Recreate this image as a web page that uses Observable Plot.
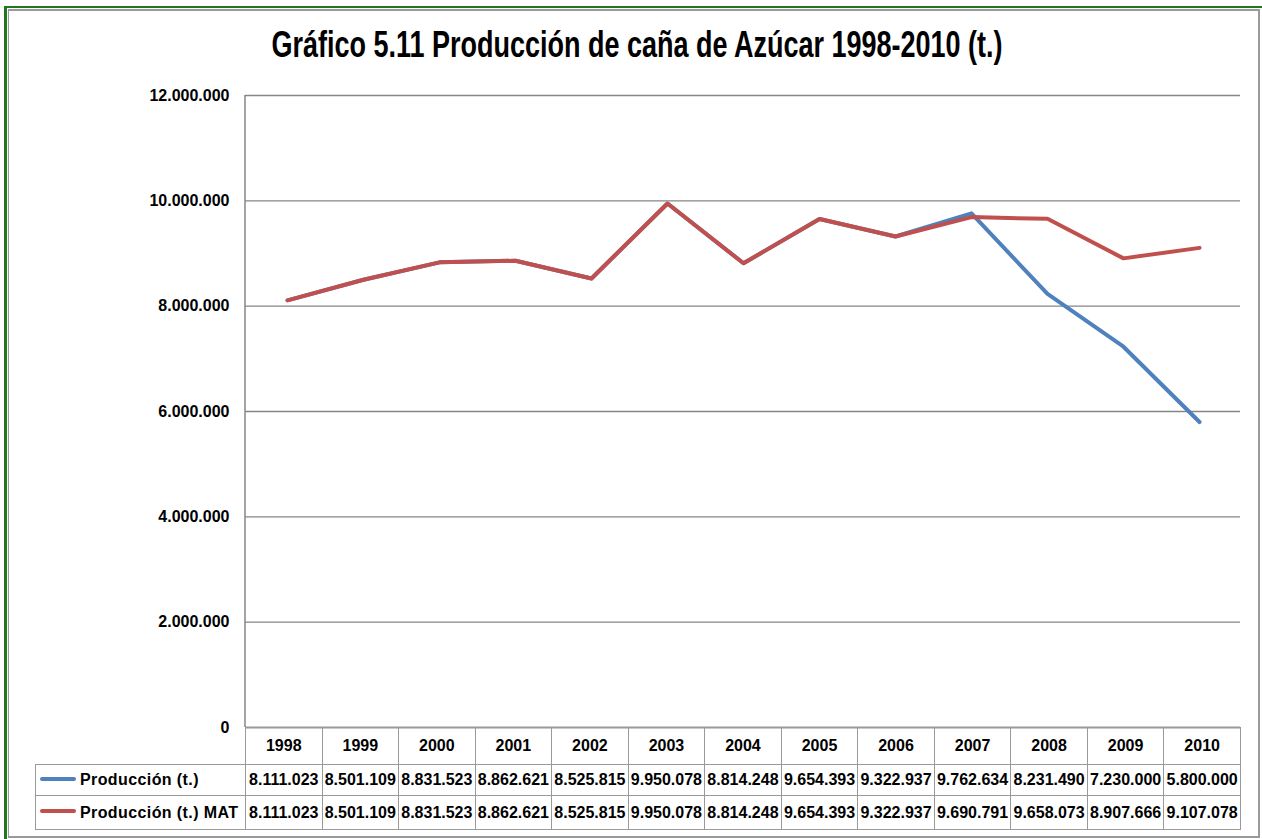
<!DOCTYPE html>
<html>
<head>
<meta charset="utf-8">
<script src="https://cdn.jsdelivr.net/npm/d3@7"></script>
<script src="https://cdn.jsdelivr.net/npm/@observablehq/plot@0.6"></script>
<style>
  html, body { margin: 0; padding: 0; background: #fff; }
  #wrap { position: relative; width: 1262px; height: 839px; overflow: hidden; font-family: "Liberation Sans", Arial, sans-serif; }
  #green { position: absolute; left: 4px; top: 6px; width: 1258px; height: 840px; border-top: 2px solid #1f7a1f; border-left: 3px solid #1f7a1f; box-sizing: border-box; }
  #gray { position: absolute; left: 8px; top: 9px; width: 1252px; height: 829px; border: 1px solid #9a9a9a; border-width: 2px 2px 2px 1px; box-sizing: border-box; }
  #title { position: absolute; left: 0; width: 1274px; top: 24px; text-align: center; font-family: "Liberation Sans", Arial, sans-serif; font-weight: bold; font-size: 37px; color: #000; white-space: nowrap; }
  #title span { display: inline-block; transform-origin: center; }
  #chart { position: absolute; left: 0; top: 0; }
  #table { position: absolute; left: 35px; top: 727px; border-collapse: collapse; table-layout: fixed; font-weight: bold; font-size: 16px; color: #000; }
  #table td { border: 1px solid #9a9a9a; padding: 0; text-align: center; white-space: nowrap; overflow: visible; }
  #table td.blank { border: none; }
  #table td.lab { text-align: left; padding-left: 4px; letter-spacing: 0.4px; }
  .sw { display: inline-block; width: 36px; height: 4px; border-radius: 2px; vertical-align: middle; margin-right: 4px; position: relative; top: -2px; }
</style>
</head>
<body>
<div id="wrap">
  <div id="green"></div>
  <div id="gray"></div>
  <div id="title"><span id="titletext"></span></div>
  <div id="chart"></div>
  <table id="table"></table>
</div>
<script>
const titleText = "Gráfico 5.11 Producción de caña de Azúcar 1998-2010 (t.)";
const years = ["1998","1999","2000","2001","2002","2003","2004","2005","2006","2007","2008","2009","2010"];
const produccion = [8111023, 8501109, 8831523, 8862621, 8525815, 9950078, 8814248, 9654393, 9322937, 9762634, 8231490, 7230000, 5800000];
const produccionMAT = [8111023, 8501109, 8831523, 8862621, 8525815, 9950078, 8814248, 9654393, 9322937, 9690791, 9658073, 8907666, 9107078];
const seriesNames = ["Producción (t.)", "Producción (t.) MAT"];
const seriesColors = ["#4F81BD", "#C0504D"];
const yTicks = [0, 2000000, 4000000, 6000000, 8000000, 10000000, 12000000];

const fmt = d3.formatLocale({decimal: ",", thousands: ".", grouping: [3], currency: ["", ""]}).format(",");

document.getElementById("titletext").textContent = titleText;

const seriesValues = [produccion, produccionMAT];
const data = seriesValues.flatMap((vals, s) => years.map((y, i) => ({year: y, value: vals[i], series: seriesNames[s]})));

const leftLine = (index, scales, values, dims) => {
  const g = d3.create("svg:line")
    .attr("x1", dims.marginLeft).attr("x2", dims.marginLeft)
    .attr("y1", dims.marginTop).attr("y2", dims.height - dims.marginBottom)
    .attr("stroke", "#868686").attr("stroke-width", 1.5);
  return g.node();
};

const chart = Plot.plot({
  width: 1262,
  height: 839,
  marginTop: 95,
  marginBottom: 112,
  marginLeft: 245,
  marginRight: 22,
  style: {fontFamily: "'Liberation Sans', Arial, sans-serif", fontSize: "16px", fontWeight: "bold", color: "#000", background: "transparent", overflow: "visible"},
  x: {type: "point", domain: years, padding: 0.5, axis: null},
  y: {domain: [0, 12000000], ticks: yTicks, tickFormat: fmt, tickSize: 0, tickPadding: 16, label: null},
  color: {domain: seriesNames, range: seriesColors},
  marks: [
    Plot.gridY(yTicks, {stroke: "#868686", strokeOpacity: 1, strokeWidth: 1.3}),
    Plot.ruleY([0], {stroke: "#868686", strokeWidth: 1.5}),
    leftLine,
    Plot.line(data, {x: "year", y: "value", z: "series", stroke: "series", strokeWidth: 4, strokeLinejoin: "round", strokeLinecap: "round"})
  ]
});
document.getElementById("chart").appendChild(chart);

// data table
const colW = (1240 - 245) / years.length;
const table = document.getElementById("table");
const colgroup = document.createElement("colgroup");
const c0 = document.createElement("col"); c0.style.width = "210px"; colgroup.appendChild(c0);
years.forEach(() => { const c = document.createElement("col"); c.style.width = colW + "px"; colgroup.appendChild(c); });
table.appendChild(colgroup);
table.style.width = (210 + colW * years.length) + "px";

const hr = document.createElement("tr"); hr.style.height = "37px";
const blank = document.createElement("td"); blank.className = "blank"; hr.appendChild(blank);
years.forEach(y => { const td = document.createElement("td"); td.textContent = y; hr.appendChild(td); });
table.appendChild(hr);

const rowH = [31, 34];
seriesNames.forEach((name, s) => {
  const tr = document.createElement("tr"); tr.style.height = rowH[s] + "px";
  const lab = document.createElement("td"); lab.className = "lab";
  const sw = document.createElement("span"); sw.className = "sw"; sw.style.background = seriesColors[s];
  lab.appendChild(sw); lab.appendChild(document.createTextNode(name));
  tr.appendChild(lab);
  seriesValues[s].forEach(v => { const td = document.createElement("td"); td.textContent = fmt(v); tr.appendChild(td); });
  table.appendChild(tr);
});

// fit title width to reference (~731px)
const tspan = document.getElementById("titletext");
const w = tspan.getBoundingClientRect().width;
if (w > 0) tspan.style.transform = `scaleX(${731 / w})`;
</script>
</body>
</html>
